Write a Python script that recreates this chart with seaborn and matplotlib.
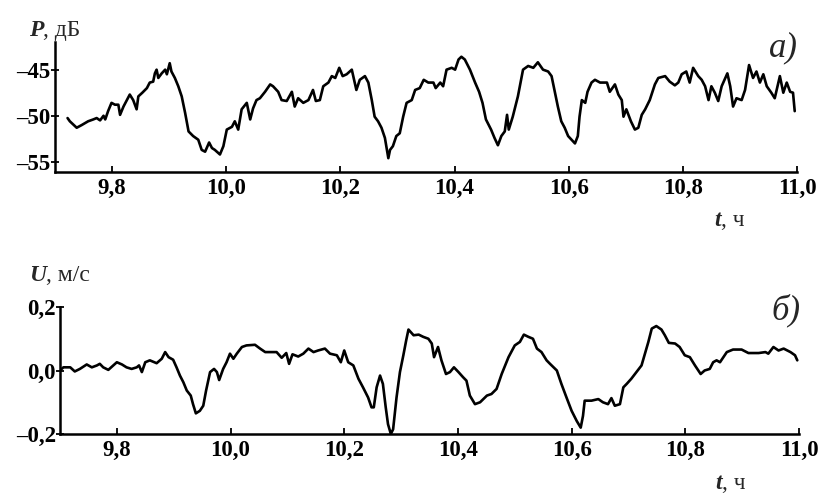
import numpy as np
import pandas as pd
import matplotlib
matplotlib.use("Agg")
import matplotlib.pyplot as plt
import seaborn as sns

# ---- data ----
t_P = [9.722, 9.726, 9.738, 9.747, 9.758, 9.767, 9.773, 9.779, 9.785, 9.788, 9.793, 9.799, 9.805, 9.811,
       9.814, 9.820, 9.826, 9.831, 9.837, 9.843, 9.846, 9.853, 9.861, 9.866, 9.872, 9.875, 9.878, 9.881,
       9.887, 9.893, 9.896, 9.901, 9.904, 9.910, 9.916, 9.922, 9.928, 9.934, 9.942, 9.951, 9.957, 9.963,
       9.970, 9.975, 9.980, 9.989, 9.995, 10.001, 10.010, 10.015, 10.021, 10.027, 10.036, 10.042, 10.047,
       10.053, 10.059, 10.068, 10.077, 10.082, 10.091, 10.097, 10.106, 10.115, 10.120, 10.126, 10.135,
       10.144, 10.152, 10.157, 10.164, 10.170, 10.179, 10.185, 10.191, 10.198, 10.204, 10.211, 10.220,
       10.228, 10.234, 10.243, 10.249, 10.255, 10.260, 10.266, 10.272, 10.278, 10.284, 10.287, 10.292,
       10.298, 10.304, 10.310, 10.316, 10.325, 10.331, 10.339, 10.346, 10.354, 10.363, 10.367, 10.375,
       10.380, 10.386, 10.395, 10.401, 10.407, 10.412, 10.418, 10.427, 10.436, 10.443, 10.449, 10.455,
       10.464, 10.470, 10.476, 10.482, 10.488, 10.492, 10.495, 10.502, 10.511, 10.520, 10.529, 10.538,
       10.546, 10.555, 10.564, 10.570, 10.575, 10.581, 10.587, 10.593, 10.599, 10.611, 10.616, 10.619,
       10.623, 10.629, 10.633, 10.640, 10.646, 10.655, 10.667, 10.672, 10.681, 10.687, 10.693, 10.696,
       10.701, 10.709, 10.716, 10.722, 10.728, 10.734, 10.742, 10.751, 10.757, 10.769, 10.777, 10.786,
       10.792, 10.798, 10.806, 10.812, 10.818, 10.827, 10.833, 10.839, 10.845, 10.850, 10.856, 10.862,
       10.868, 10.878, 10.883, 10.888, 10.894, 10.903, 10.909, 10.916, 10.923, 10.929, 10.935, 10.941,
       10.947, 10.955, 10.961, 10.970, 10.976, 10.982, 10.988, 10.993, 10.996]
P = [-50.25, -50.6, -51.3, -51.0, -50.6, -50.4, -50.25, -50.5, -50.0, -50.4, -49.5, -48.6, -48.8, -48.8,
     -49.9, -49.0, -48.3, -47.7, -48.3, -49.3, -47.9, -47.5, -47.0, -46.4, -46.3, -45.4, -45.0, -45.9,
     -45.4, -45.0, -45.5, -44.3, -45.2, -45.9, -46.8, -47.9, -49.7, -51.7, -52.2, -52.6, -53.7, -53.9,
     -52.9, -53.5, -53.7, -54.2, -53.3, -51.5, -51.2, -50.6, -51.5, -49.3, -48.6, -50.4, -49.2,
     -48.3, -48.1, -47.4, -46.6, -46.8, -47.4, -48.3, -48.4, -47.4, -49.0, -48.1, -48.6,
     -48.3, -47.2, -48.4, -48.3, -46.8, -46.4, -45.7, -45.9, -44.8, -45.7, -45.5, -45.0,
     -47.2, -46.1, -45.7, -46.4, -48.3, -50.1, -50.6, -51.3, -52.4, -54.6, -53.7, -53.3,
     -52.2, -51.9, -50.1, -48.6, -48.3, -47.2, -47.0, -46.1, -46.4, -46.4, -47.0, -46.4,
     -46.8, -45.0, -44.8, -45.0, -43.9, -43.6, -43.9, -45.0, -46.4, -47.4, -48.6, -50.4,
     -51.5, -52.4, -53.2, -52.2, -51.7, -49.9, -51.5, -50.1, -47.9, -45.0, -44.6, -44.8,
     -44.2, -45.0, -45.2, -45.7, -47.2, -49.0, -50.6, -51.3, -52.2, -53.0, -52.2, -50.1,
     -48.3, -48.6, -47.4, -46.4, -46.1, -46.4, -46.4, -47.4, -46.6, -47.7, -48.3, -50.1,
     -49.3, -50.6, -51.5, -51.3, -49.9, -49.3, -48.3, -46.6, -45.9, -45.7, -46.3, -46.7,
     -46.4, -45.5, -45.2, -46.4, -44.8, -45.7, -46.1, -46.8, -48.3, -46.8, -47.5, -48.4,
     -46.8, -45.4, -46.8, -49.0, -48.1, -48.3, -47.2, -44.5, -45.9, -45.2, -46.4, -45.5,
     -46.8, -47.5, -48.1, -45.7, -47.5, -46.4, -47.4, -47.5, -49.5]

t_U = [9.700, 9.706, 9.718, 9.726, 9.735, 9.747, 9.756, 9.765, 9.770, 9.776, 9.785, 9.800, 9.809, 9.817,
       9.826, 9.835, 9.839, 9.844, 9.850, 9.858, 9.870, 9.879, 9.885, 9.891, 9.899, 9.905, 9.911, 9.917,
       9.923, 9.930, 9.934, 9.939, 9.946, 9.952, 9.957, 9.964, 9.971, 9.976, 9.980, 9.987, 9.993, 9.999,
       10.005, 10.011, 10.020, 10.028, 10.043, 10.052, 10.061, 10.081, 10.090, 10.098, 10.103, 10.109,
       10.119, 10.128, 10.137, 10.146, 10.154, 10.166, 10.175, 10.187, 10.194, 10.200, 10.207, 10.216,
       10.225, 10.233, 10.242, 10.248, 10.252, 10.257, 10.263, 10.268, 10.273, 10.277, 10.282, 10.286,
       10.292, 10.298, 10.304, 10.309, 10.313, 10.322, 10.331, 10.339, 10.348, 10.354, 10.358, 10.365,
       10.371, 10.379, 10.386, 10.393, 10.401, 10.409, 10.415, 10.421, 10.430, 10.439, 10.451, 10.459,
       10.468, 10.477, 10.489, 10.500, 10.509, 10.516, 10.524, 10.532, 10.539, 10.547, 10.556, 10.562,
       10.574, 10.582, 10.591, 10.600, 10.609, 10.616, 10.620, 10.623, 10.635, 10.647, 10.655, 10.664,
       10.670, 10.676, 10.685, 10.691, 10.697, 10.705, 10.714, 10.723, 10.729, 10.735, 10.741, 10.749,
       10.758, 10.764, 10.771, 10.782, 10.790, 10.799, 10.808, 10.817, 10.827, 10.834, 10.843, 10.849,
       10.855, 10.861, 10.873, 10.884, 10.899, 10.911, 10.929, 10.941, 10.946, 10.955, 10.964, 10.973,
       10.985, 10.993, 10.997]
U = [0.0, 0.010, 0.010, -0.003, 0.005, 0.019, 0.010, 0.016, 0.021, 0.010, 0.002, 0.026, 0.019, 0.010,
     0.005, 0.010, 0.016, -0.005, 0.026, 0.032, 0.023, 0.037, 0.058, 0.042, 0.034, 0.010, -0.016, -0.037,
     -0.063, -0.079, -0.106, -0.135, -0.127, -0.111, -0.063, -0.005, 0.005, -0.005, -0.030, 0.005, 0.026, 0.053,
     0.037, 0.053, 0.074, 0.079, 0.081, 0.069, 0.058, 0.058, 0.040, 0.055, 0.021, 0.051,
     0.044, 0.053, 0.069, 0.058, 0.063, 0.069, 0.053, 0.048, 0.026, 0.063, 0.026, 0.016,
     -0.026, -0.053, -0.085, -0.116, -0.116, -0.053, -0.016, -0.042, -0.116, -0.169, -0.200, -0.185,
     -0.085, -0.005, 0.048, 0.095, 0.129, 0.111, 0.113, 0.106, 0.100, 0.085, 0.042, 0.074,
     0.032, -0.011, -0.005, 0.010, -0.005, -0.021, -0.032, -0.079, -0.106, -0.100, -0.079, -0.074,
     -0.058, -0.011, 0.042, 0.079, 0.090, 0.113, 0.106, 0.100, 0.069, 0.058, 0.032, 0.021,
     0.0, -0.042, -0.085, -0.127, -0.159, -0.180, -0.143, -0.095, -0.095, -0.090, -0.100, -0.106,
     -0.087, -0.111, -0.106, -0.053, -0.042, -0.026, -0.005, 0.016, 0.053, 0.090, 0.132, 0.140,
     0.129, 0.111, 0.087, 0.085, 0.074, 0.048, 0.042, 0.016, -0.011, 0.0, 0.005, 0.026,
     0.032, 0.026, 0.058, 0.066, 0.066, 0.055, 0.055, 0.058, 0.053, 0.074, 0.063, 0.069,
     0.058, 0.048, 0.032]

x_ticks = [9.8, 10.0, 10.2, 10.4, 10.6, 10.8, 11.0]
x_ticklabels = ["9,8", "10,0", "10,2", "10,4", "10,6", "10,8", "11,0"]
p_ticks = [-45, -50, -55]
p_ticklabels = ["\u201345", "\u201350", "\u201355"]
u_ticks = [0.2, 0.0, -0.2]
u_ticklabels = ["0,2", "0,0", "\u20130,2"]

# ---- style ----
sns.set_style("ticks")
SERIF = ["Liberation Serif", "DejaVu Serif"]
plt.rcParams["font.family"] = SERIF

W, H = 820, 494
fig = plt.figure(figsize=(W / 100, H / 100), dpi=100)

ax1 = fig.add_axes([55 / W, 1 - 172 / H, (797 - 55) / W, (172 - 42) / H])
ax2 = fig.add_axes([60 / W, 1 - 434 / H, (799 - 60) / W, (434 - 307) / H])

dfP = pd.DataFrame({"t": t_P, "v": P})
dfU = pd.DataFrame({"t": t_U, "v": U})
sns.lineplot(data=dfP, x="t", y="v", ax=ax1, color="black", lw=1.9, sort=False)
sns.lineplot(data=dfU, x="t", y="v", ax=ax2, color="black", lw=1.9, sort=False)

ax1.set_xlim(9.7, 11.0)
ax1.set_ylim(-56.1, -42.0)
ax2.set_xlim(9.7, 11.0)
ax2.set_ylim(-0.2, 0.2)

TICK_FS = 16.5
for ax, yt, ytl in [(ax1, p_ticks, p_ticklabels), (ax2, u_ticks, u_ticklabels)]:
    ax.set_xticks(x_ticks)
    ax.set_xticklabels(x_ticklabels)
    ax.set_yticks(yt)
    ax.set_yticklabels(ytl)
    ax.set_xlabel("")
    ax.set_ylabel("")
    for s in ["top", "right"]:
        ax.spines[s].set_visible(False)
    for s in ["left", "bottom"]:
        ax.spines[s].set_linewidth(1.8)
        ax.spines[s].set_color("black")
    ax.tick_params(axis="x", direction="in", length=4, width=1.3, pad=4,
                   labelsize=TICK_FS, colors="black")
    ax.tick_params(axis="y", direction="inout", length=6, width=1.3, pad=0,
                   labelsize=TICK_FS, colors="black")
    for lab in ax.get_xticklabels() + ax.get_yticklabels():
        lab.set_fontweight("bold")
        lab.set_family(SERIF)
    ax.set_facecolor("white")

# ---- axis labels ----
fig.canvas.draw()


def unit_label(x, y, sym, unit, fs=17):
    t1 = fig.text(x / W, 1 - y / H, sym, fontsize=fs, fontweight="bold",
                  fontstyle="italic", family=SERIF, ha="left", va="baseline")
    bb = t1.get_window_extent(renderer=fig.canvas.get_renderer())
    fig.text(bb.x1 / W, 1 - y / H, unit, fontsize=fs, family=SERIF,
             ha="left", va="baseline")


unit_label(29, 36, "P", ", дБ")
unit_label(29, 281, "U", ", м/с")
unit_label(714, 226, "t", ", ч")
unit_label(715, 489, "t", ", ч")

fig.text(798 / W, 1 - 56 / H, "a)", fontsize=25, fontstyle="italic", family=SERIF,
         ha="right", va="baseline")
fig.text(801 / W, 1 - 319 / H, "б)", fontsize=25, fontstyle="italic", family=SERIF,
         ha="right", va="baseline")

fig.savefig("out.png", dpi=100, facecolor="white")
